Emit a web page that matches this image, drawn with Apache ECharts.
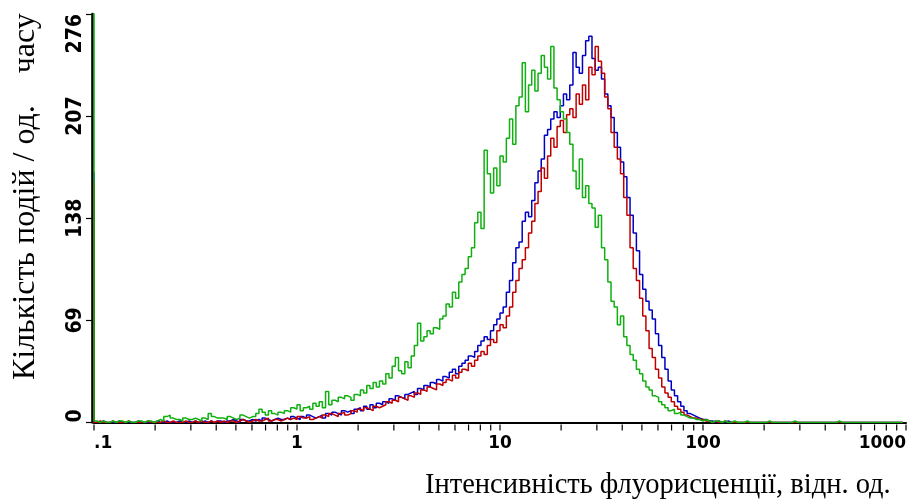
<!DOCTYPE html>
<html>
<head>
<meta charset="utf-8">
<script src="https://cdn.jsdelivr.net/npm/echarts@6/dist/echarts.min.js"></script>
<style>
  html, body { margin: 0; padding: 0; background: #ffffff; }
  #chart { width: 910px; height: 501px; }
</style>
</head>
<body>
<div id="chart"></div>
<script>
// Axis ticks and titles
const xTickValues = [0.1, 1, 10, 100, 1000];
const xTickLabels = ['.1', '1', '10', '100', '1000'];
const yTickValues = [0, 69, 138, 207, 276];
const xTitle = 'Інтенсивність флуорисценції, відн. од.';
const yTitle = 'Кількість подій / од.    часу';

// Event counts per channel (256 channels, first channel holds off-scale events)
const greenCounts = [
  400,1,0,1,0,0,1,0,1,1,  0,1,0,0,1,1,0,1,1,0,
  1,2,1,4,5,3,2,2,1,3,  2,2,3,2,1,3,2,6,4,3,
  3,3,2,4,3,2,3,5,4,3,  4,4,6,9,7,5,8,6,5,7,
  6,8,7,10,9,12,8,10,11,9,  13,11,14,10,21,12,15,14,17,16,
  18,17,15,19,18,22,20,25,23,27,  24,28,26,33,30,38,44,35,33,41,
  37,45,52,67,55,58,62,60,64,63,  70,72,80,78,88,84,95,100,104,112,
  118,135,142,131,184,168,155,172,160,180,  176,192,205,188,214,220,243,210,228,238,
  224,236,248,240,232,254,226,218,210,205,  196,188,170,158,178,152,160,148,145,132,
  140,118,110,95,82,78,66,72,58,52,  46,42,36,33,28,24,22,18,17,14,
  12,10,8,9,6,7,5,4,3,3,  2,2,1,2,1,0,1,1,0,1,
  0,0,1,0,0,0,1,0,0,0,  0,0,0,1,0,0,0,0,0,0,
  0,1,0,0,0,0,0,0,0,0,  0,0,0,0,0,1,0,0,0,0,
  0,0,0,0,0,0,0,0,0,0,  0,0,0,0,0,0
];
const blueCounts = [
  169,0,0,1,0,0,0,0,1,0,  0,0,0,0,1,0,0,0,0,0,
  1,0,0,1,0,0,0,1,0,0,  1,0,1,0,0,1,0,1,0,1,
  1,0,1,1,2,1,0,2,1,1,  2,1,2,1,3,2,1,2,3,2,
  2,3,2,4,3,2,4,3,5,4,  3,4,5,3,6,5,7,6,5,8,
  7,8,6,9,10,8,11,9,12,10,  13,12,14,13,16,15,18,17,16,19,
  20,21,19,23,22,25,24,27,26,29,  28,31,30,34,36,33,38,40,42,45,
  44,48,52,55,58,56,62,66,70,74,  78,88,96,108,118,122,136,142,139,150,
  162,170,178,194,198,205,210,206,214,222,  218,228,250,240,236,248,258,261,246,238,
  240,232,222,214,206,196,186,176,166,152,  140,128,116,100,90,82,76,70,60,52,
  44,36,28,22,18,14,11,8,6,5,  4,3,2,2,1,1,0,1,0,0,
  1,0,0,0,0,0,0,0,0,0,  0,0,0,0,0,0,0,0,0,0,
  0,0,0,0,0,0,0,0,0,0,  0,0,0,0,0,0,0,0,0,0,
  0,0,0,0,0,0,0,0,0,0,  0,0,0,0,0,0
];
const redCounts = [
  162,0,1,0,0,0,1,0,0,0,  0,1,0,0,0,0,0,1,0,0,
  0,0,1,0,0,1,0,0,0,1,  0,0,1,0,1,0,0,1,0,1,
  0,1,0,1,1,0,1,2,1,0,  1,2,1,1,2,3,1,2,2,1,
  2,3,2,3,2,4,3,3,4,2,  3,4,3,5,4,6,5,4,6,7,
  5,6,8,7,9,8,10,9,8,11,  10,11,12,14,13,15,14,17,16,15,
  18,17,20,19,22,21,24,23,22,26,  25,27,29,28,32,30,34,36,35,40,
  38,42,45,48,46,52,56,54,62,66,  64,72,78,88,96,104,110,118,128,136,
  148,156,172,165,180,192,186,200,204,196,  208,212,206,222,215,228,218,240,235,254,
  244,236,220,212,196,186,178,168,152,140,  118,104,96,84,72,62,50,44,36,30,
  24,20,17,14,11,9,7,5,4,3,  3,2,2,1,1,0,1,0,0,1,
  0,0,0,0,0,0,0,0,0,0,  0,0,0,0,0,0,0,0,0,0,
  0,0,0,0,0,0,0,0,0,0,  0,0,0,0,0,0,0,0,0,0,
  0,0,0,0,0,0,0,0,0,0,  0,0,0,0,0,0
];

// Channel scale: 256 log-spaced channels over four decades starting at 0.1
const channelCount = greenCounts.length;
const channels = greenCounts.map((_, i) => 0.1 * Math.pow(10, 4 * i / channelCount));

// Tick marks at 1..9 of every decade
const decadeTicks = [];
[0.1, 1, 10, 100].forEach(d => {
  for (let k = 1; k <= 9; k++) decadeTicks.push(+(d * k).toPrecision(6));
});
decadeTicks.push(1000);

function labelFor(v) {
  const idx = xTickValues.findIndex(t => Math.abs(Math.log10(t) - Math.log10(v)) < 1e-6);
  return idx >= 0 ? xTickLabels[idx] : '';
}

function histSeries(name, counts, color, z) {
  return {
    name: name,
    type: 'line',
    step: 'start',
    data: channels.map((c, i) => [c, counts[i]]),
    symbol: 'none',
    clip: true,
    z: z,
    lineStyle: { color: color, width: 1.5 },
    itemStyle: { color: color },
    emphasis: { disabled: true }
  };
}

// Short downward tick marks under the log axis, placed through the axis scale
const tickSeries = {
  type: 'custom',
  silent: true,
  clip: false,
  z: 1,
  data: decadeTicks.map(v => [v, 0]),
  renderItem: function (params, api) {
    const p = api.coord([api.value(0), 0]);
    return {
      type: 'line',
      shape: { x1: p[0], y1: p[1] + 2, x2: p[0], y2: p[1] + 8 },
      style: { stroke: '#000000', lineWidth: 1.2 }
    };
  }
};

const chart = echarts.init(document.getElementById('chart'), null, { renderer: 'canvas' });

chart.setOption({
  animation: false,
  backgroundColor: '#ffffff',
  grid: { left: 94, right: 4, top: 14, bottom: 78.5, containLabel: false },
  xAxis: {
    type: 'log',
    logBase: 10,
    min: 0.1,
    max: 1000,
    offset: 2,
    axisLine: { show: true, lineStyle: { color: '#000000', width: 2 } },
    axisTick: { show: false },
    minorTick: { show: false },
    axisLabel: {
      customValues: xTickValues,
      formatter: labelFor,
      margin: 11,
      color: '#000000',
      fontFamily: '"DejaVu Sans", sans-serif',
      fontWeight: 'bold',
      fontSize: 17,
      alignMinLabel: 'left',
      alignMaxLabel: 'right'
    },
    splitLine: { show: false }
  },
  yAxis: {
    type: 'value',
    min: yTickValues[0],
    max: yTickValues[yTickValues.length - 1],
    interval: yTickValues[1] - yTickValues[0],
    offset: 2,
    axisLine: { show: true, lineStyle: { color: '#000000', width: 2.6 } },
    axisTick: { show: true, length: 6, lineStyle: { color: '#000000', width: 1.2 } },
    axisLabel: {
      rotate: 90,
      margin: 6,
      color: '#000000',
      fontFamily: '"DejaVu Sans Condensed", sans-serif',
      fontWeight: 'bold',
      fontSize: 21,
      alignMinLabel: 'left',
      alignMaxLabel: 'right'
    },
    splitLine: { show: false }
  },
  graphic: [
    {
      type: 'text',
      x: 26,
      y: 380,
      rotation: Math.PI / 2,
      style: {
        text: yTitle,
        font: '32px "Liberation Serif", serif',
        fill: '#000000',
        align: 'left',
        verticalAlign: 'middle'
      }
    },
    {
      type: 'text',
      x: 425,
      y: 486,
      style: {
        text: xTitle,
        font: '28.5px "Liberation Serif", serif',
        fill: '#000000',
        align: 'left',
        verticalAlign: 'middle'
      }
    }
  ],
  series: [
    tickSeries,
    histSeries('blue', blueCounts, '#0000c4', 2),
    histSeries('red', redCounts, '#c00000', 3),
    histSeries('green', greenCounts, '#10b010', 4)
  ]
});
</script>
</body>
</html>
